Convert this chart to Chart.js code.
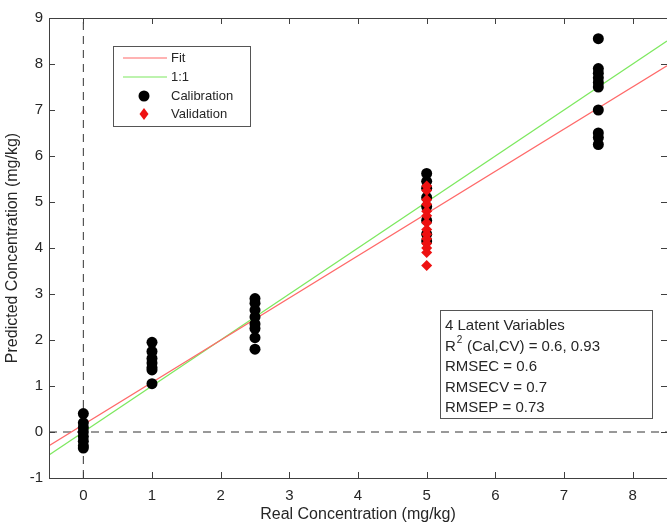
<!DOCTYPE html>
<html>
<head>
<meta charset="utf-8">
<script src="https://cdn.jsdelivr.net/npm/chart.js@4/dist/chart.umd.min.js"></script>
<style>
  body { margin: 0; background: #fff; }
</style>
</head>
<body>
<canvas id="myChart" width="667" height="524"></canvas>
<script>
// values
const calibrationX = [
  0, 0, 0, 0, 0, 0, 0, 0,
  1, 1, 1, 1, 1, 1, 1,
  2.5, 2.5, 2.5, 2.5, 2.5, 2.5, 2.5, 2.5,
  5, 5, 5, 5, 5, 5, 5, 5,
  7.5, 7.5, 7.5, 7.5, 7.5, 7.5, 7.5, 7.5, 7.5, 7.5
];
const calibrationY = [
  0.4, 0.2, 0.1, 0.0, -0.1, -0.2, -0.3, -0.35,
  1.95, 1.75, 1.6, 1.5, 1.4, 1.35, 1.05,
  2.9, 2.8, 2.65, 2.5, 2.35, 2.25, 2.05, 1.8,
  5.62, 5.45, 5.3, 5.1, 4.9, 4.6, 4.3, 4.15,
  8.55, 7.9, 7.8, 7.7, 7.6, 7.5, 7.0, 6.5, 6.4, 6.25
];
const validationX = [5, 5, 5, 5, 5, 5, 5, 5, 5, 5, 5, 5, 5, 5];
const validationY = [5.35, 5.25, 5.05, 4.95, 4.8, 4.7, 4.55, 4.4, 4.3, 4.2, 4.1, 4.0, 3.9, 3.62];
const fitX = [-0.5, 8.5];
const fitY = [-0.30, 7.96];
const oneToOneX = [-0.5, 8.5];
const oneToOneY = [-0.5, 8.5];
const xTicks = [0, 1, 2, 3, 4, 5, 6, 7, 8];
const yTicks = [-1, 0, 1, 2, 3, 4, 5, 6, 7, 8, 9];
const statsLines = ['4 Latent Variables', 'R2 (Cal,CV) = 0.6, 0.93', 'RMSEC = 0.6', 'RMSECV = 0.7', 'RMSEP = 0.73'];

const pts = (xs, ys) => xs.map((x, i) => ({ x: x, y: ys[i] }));

const FONT = '"Liberation Sans", Arial, sans-serif';
const AXIS = '#404040';

// MATLAB-like box: inward ticks, top/right edges, legend and stats box
const boxPlugin = {
  id: 'matlabBox',
  afterDatasetsDraw(chart) {
    const { ctx, chartArea: a, scales } = chart;
    ctx.save();
    ctx.strokeStyle = AXIS;
    ctx.lineWidth = 1;
    ctx.strokeRect(a.left + 0.5, a.top + 0.5, a.right - a.left + 2, a.bottom - a.top);
    ctx.beginPath();
    xTicks.forEach(v => {
      const px = Math.round(scales.x.getPixelForValue(v)) + 0.5;
      ctx.moveTo(px, a.bottom); ctx.lineTo(px, a.bottom - 6);
      ctx.moveTo(px, a.top); ctx.lineTo(px, a.top + 6);
    });
    yTicks.forEach(v => {
      const py = Math.round(scales.y.getPixelForValue(v)) + 0.5;
      ctx.moveTo(a.left, py); ctx.lineTo(a.left + 6, py);
      ctx.moveTo(a.right, py); ctx.lineTo(a.right - 6, py);
    });
    ctx.stroke();

    // legend
    const lx = 113, ly = 46, lw = 137, lh = 80;
    ctx.fillStyle = '#fff';
    ctx.fillRect(lx, ly, lw, lh);
    ctx.strokeStyle = '#555';
    ctx.strokeRect(lx + 0.5, ly + 0.5, lw, lh);
    ctx.font = '13px ' + FONT;
    ctx.textBaseline = 'middle';
    const rows = [58, 77, 96, 114];
    const names = ['Fit', '1:1', 'Calibration', 'Validation'];
    chart.data.datasets.slice(0, 4).forEach((ds, i) => {
      const y = ly + rows[i] - 46;
      if (ds.showLine) {
        ctx.strokeStyle = ds.borderColor;
        ctx.lineWidth = 1.2;
        ctx.beginPath(); ctx.moveTo(123, y); ctx.lineTo(167, y); ctx.stroke();
      } else if (ds.pointStyle === 'rectRot') {
        ctx.fillStyle = ds.backgroundColor;
        ctx.beginPath();
        ctx.moveTo(144, y - 6); ctx.lineTo(148.5, y); ctx.lineTo(144, y + 6); ctx.lineTo(139.5, y);
        ctx.closePath(); ctx.fill();
      } else {
        ctx.fillStyle = ds.backgroundColor;
        ctx.beginPath(); ctx.arc(144, y, 5.5, 0, Math.PI * 2); ctx.fill();
      }
      ctx.fillStyle = '#262626';
      ctx.fillText(names[i], 171, y);
    });

    // stats box
    const sx = 440, sy = 310, sw = 212, sh = 108;
    ctx.fillStyle = '#fff';
    ctx.fillRect(sx, sy, sw, sh);
    ctx.strokeStyle = '#555';
    ctx.lineWidth = 1;
    ctx.strokeRect(sx + 0.5, sy + 0.5, sw, sh);
    ctx.fillStyle = '#262626';
    ctx.textBaseline = 'middle';
    statsLines.forEach((t, i) => {
      const y = 326 + i * 20.5;
      ctx.font = '15px ' + FONT;
      if (t.startsWith('R2')) {
        ctx.fillText('R', 445, y);
        const w = ctx.measureText('R').width;
        ctx.font = '10px ' + FONT;
        ctx.fillText('2', 445 + w + 1, y - 6);
        ctx.font = '15px ' + FONT;
        ctx.fillText(t.slice(2), 445 + w + 7, y);
      } else {
        ctx.fillText(t, 445, y);
      }
    });
    ctx.restore();
  }
};

new Chart(document.getElementById('myChart'), {
  type: 'scatter',
  data: {
    datasets: [
      {
        label: 'Fit', data: pts(fitX, fitY), showLine: true,
        borderColor: 'rgb(255,105,105)', borderWidth: 1.3, pointRadius: 0, order: 3
      },
      {
        label: '1:1', data: pts(oneToOneX, oneToOneY), showLine: true,
        borderColor: 'rgb(125,232,95)', borderWidth: 1.3, pointRadius: 0, order: 3
      },
      {
        label: 'Calibration', data: pts(calibrationX, calibrationY),
        backgroundColor: '#000', borderColor: '#000', pointRadius: 5.5, pointBorderWidth: 0, order: 2
      },
      {
        label: 'Validation', data: pts(validationX, validationY), pointStyle: 'rectRot',
        backgroundColor: '#ee1111', borderColor: '#ee1111', pointRadius: 5.5, pointBorderWidth: 0, order: 1
      },
      {
        label: 'x0', data: [{ x: 0, y: -1 }, { x: 0, y: 9 }], showLine: true,
        borderColor: '#333', borderWidth: 1, borderDash: [8, 6], pointRadius: 0, order: 4
      },
      {
        label: 'y0', data: [{ x: -0.5, y: 0 }, { x: 8.5, y: 0 }], showLine: true,
        borderColor: '#333', borderWidth: 1, borderDash: [8, 6], pointRadius: 0, order: 4
      }
    ]
  },
  options: {
    responsive: false,
    animation: false,
    layout: { autoPadding: false, padding: { top: 18, right: 0, left: 0, bottom: 0 } },
    plugins: { legend: { display: false }, tooltip: { enabled: false } },
    scales: {
      x: {
        type: 'linear', min: -0.5, max: 8.5,
        afterBuildTicks: s => { s.ticks = xTicks.map(v => ({ value: v })); },
        afterFit: s => { s.height = 46; },
        grid: { display: false, drawTicks: false },
        border: { display: false },
        ticks: { color: '#262626', font: { family: FONT, size: 15 }, padding: 9, maxRotation: 0 },
        title: { display: true, text: 'Real Concentration (mg/kg)', color: '#262626',
                 font: { family: FONT, size: 16 }, padding: { top: 0, bottom: 0 } }
      },
      y: {
        type: 'linear', min: -1, max: 9,
        afterBuildTicks: s => { s.ticks = yTicks.map(v => ({ value: v })); },
        afterFit: s => { s.width = 49; },
        grid: { display: false, drawTicks: false },
        border: { display: false },
        ticks: { color: '#262626', font: { family: FONT, size: 15 }, padding: 6 },
        title: { display: true, text: 'Predicted Concentration (mg/kg)', color: '#262626',
                 font: { family: FONT, size: 16 }, padding: { top: 3, bottom: 0 } }
      }
    }
  },
  plugins: [boxPlugin]
});
</script>
</body>
</html>
